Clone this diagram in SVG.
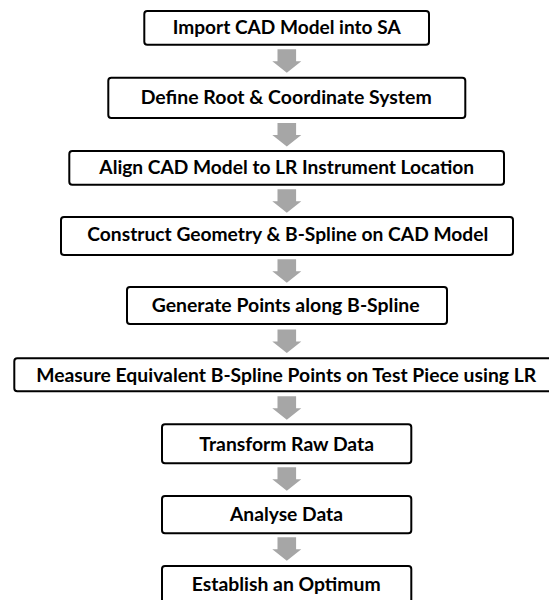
<svg xmlns="http://www.w3.org/2000/svg" xmlns:xlink="http://www.w3.org/1999/xlink" width="549" height="600" viewBox="0 0 549 600">
<style>
.box{fill:#fff;stroke:#000;stroke-width:2}
.lbl{font-family:Lato,"Open Sans","Liberation Sans",sans-serif;font-weight:700;font-size:18.5px;fill:#000;text-anchor:middle}
.arr{fill:#a6a6a6}
</style>
<defs>
<path id="down" d="M-9.3 0H9.3V12H14.5L0 23.5L-14.5 12H-9.3Z"/>
</defs>
<rect width="549" height="600" fill="#fff"/>
<g id="connectors" class="arr">
<use xlink:href="#down" x="286.8" y="49.3"/>
<use xlink:href="#down" x="286.8" y="123"/>
<use xlink:href="#down" x="286.8" y="189.2"/>
<use xlink:href="#down" x="286.8" y="259.3"/>
<use xlink:href="#down" x="286.8" y="329.5"/>
<use xlink:href="#down" x="286.8" y="396.3"/>
<use xlink:href="#down" x="286.8" y="467.3"/>
<use xlink:href="#down" x="286.8" y="537.3"/>
</g>
<g id="n1"><rect class="box" x="144.3" y="11" width="284.7" height="33.7" rx="3"/><text class="lbl" x="286.7" y="34.3" textLength="228" lengthAdjust="spacingAndGlyphs">Import CAD Model into SA</text></g>
<g id="n2"><rect class="box" x="108.3" y="77.7" width="357" height="40.3" rx="3"/><text class="lbl" x="286.2" y="104.3" textLength="291" lengthAdjust="spacingAndGlyphs">Define Root &amp; Coordinate System</text></g>
<g id="n3"><rect class="box" x="69.3" y="151" width="434.7" height="33.7" rx="3"/><text class="lbl" x="286.7" y="174" textLength="374.7" lengthAdjust="spacingAndGlyphs">Align CAD Model to LR Instrument Location</text></g>
<g id="n4"><rect class="box" x="61" y="217" width="452" height="38" rx="3"/><text class="lbl" x="287.8" y="240.7" textLength="401" lengthAdjust="spacingAndGlyphs">Construct Geometry &amp; B-Spline on CAD Model</text></g>
<g id="n5"><rect class="box" x="127" y="287" width="320" height="37" rx="3"/><text class="lbl" x="285.7" y="311.5" textLength="268" lengthAdjust="spacingAndGlyphs">Generate Points along B-Spline</text></g>
<g id="n6"><rect class="box" x="14.3" y="358.3" width="546" height="33" rx="3"/><text class="lbl" x="286.2" y="381.7" textLength="500" lengthAdjust="spacingAndGlyphs">Measure Equivalent B-Spline Points on Test Piece using LR</text></g>
<g id="n7"><rect class="box" x="162" y="424.3" width="249.3" height="39" rx="3"/><text class="lbl" x="286.7" y="450.7" textLength="174.7" lengthAdjust="spacingAndGlyphs">Transform Raw Data</text></g>
<g id="n8"><rect class="box" x="162" y="496" width="249.3" height="37.3" rx="3"/><text class="lbl" x="286.5" y="520.7" textLength="113" lengthAdjust="spacingAndGlyphs">Analyse Data</text></g>
<g id="n9"><rect class="box" x="162" y="566" width="249.3" height="40" rx="3"/><text class="lbl" x="286.2" y="590.7" textLength="189" lengthAdjust="spacingAndGlyphs">Establish an Optimum</text></g>
</svg>
